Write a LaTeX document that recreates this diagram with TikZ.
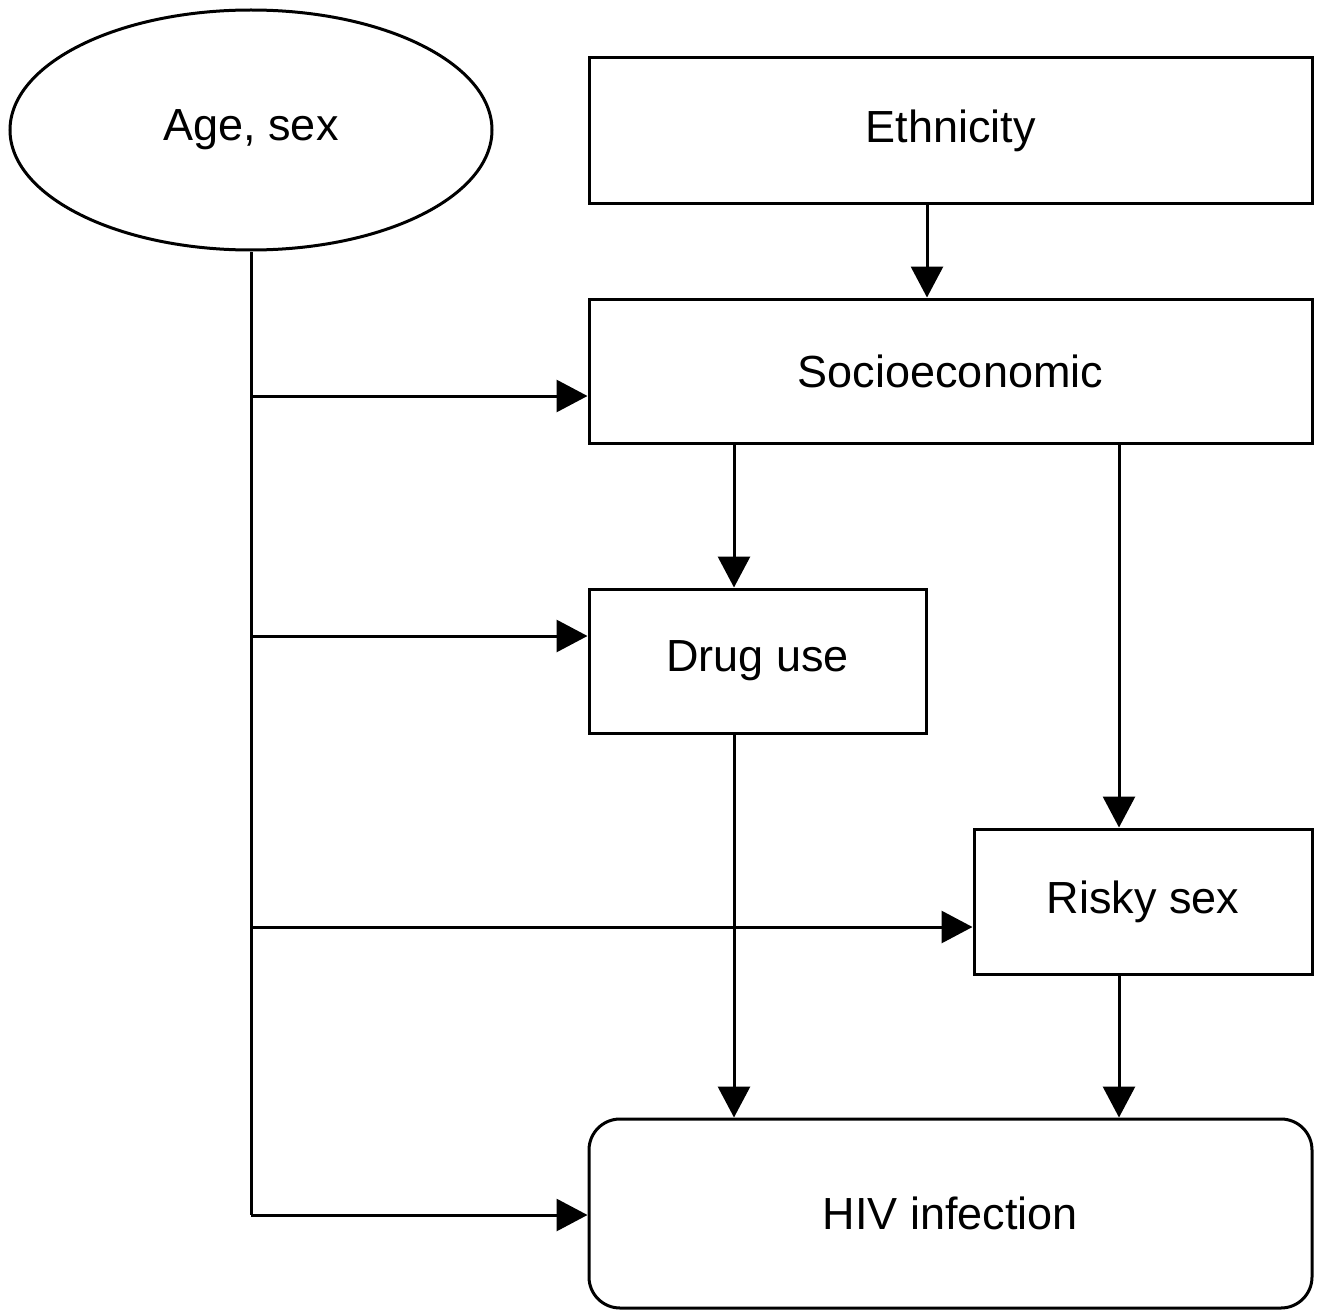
\documentclass[tikz,border=0pt]{standalone}
\usepackage{fontspec}
\setmainfont{Liberation Sans}
\usetikzlibrary{arrows.meta,shapes.geometric}
\begin{document}
\begin{tikzpicture}[x=1pt,y=-1pt,
  every node/.style={font=\fontsize{45}{54}\selectfont, inner sep=0pt},
  boxnode/.style={draw, line width=3pt, rectangle},
  arr/.style={line width=3pt, -{Triangle[length=31pt,width=32pt]}},
  ln/.style={line width=3pt}]
\useasboundingbox (0,0) rectangle (1323,1311);
\node[draw, line width=3pt, ellipse, minimum width=482pt, minimum height=240pt] (age) at (251,130) {Age, sex};
\node[boxnode, minimum width=723pt, minimum height=145pt] (eth) at (950.5,130.5) {Ethnicity};
\node[boxnode, minimum width=723pt, minimum height=144pt] (socio) at (950.5,371) {Socioeconomic};
\node[boxnode, minimum width=337pt, minimum height=144pt] (drug) at (757.5,661) {Drug use};
\node[boxnode, minimum width=338pt, minimum height=145pt] (risky) at (1143,901.5) {Risky sex};
\node[boxnode, rounded corners=31pt, minimum width=723pt, minimum height=189pt] (hiv) at (950.5,1213.5) {HIV infection};
\coordinate (xe) at (927,0);
\coordinate (xd) at (734,0);
\coordinate (xr) at (1119,0);
\coordinate (b1) at (251,396);
\coordinate (b2) at (251,636);
\coordinate (b3) at (251,927);
\coordinate (b4) at (251,1215);
\draw[arr] (xe |- eth.south) -- (xe |- socio.north);
\draw[arr] (xd |- socio.south) -- (xd |- drug.north);
\draw[arr] (xr |- socio.south) -- (xr |- risky.north);
\draw[arr] (xd |- drug.south) -- (xd |- hiv.north);
\draw[arr] (xr |- risky.south) -- (xr |- hiv.north);
\draw[ln] (age.south) -- (b4);
\draw[arr] (b1) -- (b1 -| socio.west);
\draw[arr] (b2) -- (b2 -| drug.west);
\draw[arr] (b3) -- (b3 -| risky.west);
\draw[arr] (b4) -- (b4 -| hiv.west);
\end{tikzpicture}
\end{document}
